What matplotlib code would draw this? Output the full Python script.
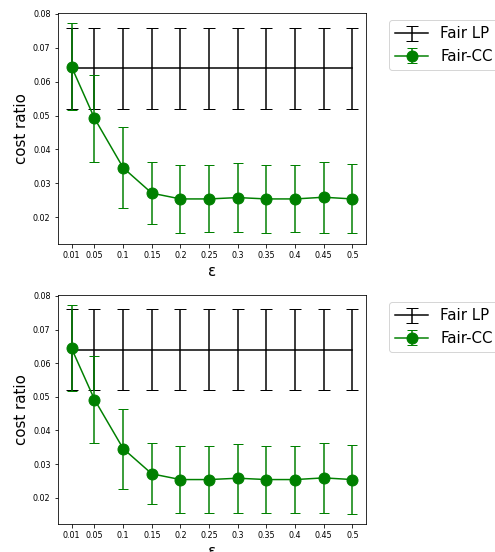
import matplotlib
matplotlib.use('Agg')
import matplotlib.pyplot as plt

# epsilon values
eps = [0.01, 0.05, 0.1, 0.15, 0.2, 0.25, 0.3, 0.35, 0.4, 0.45, 0.5]

# Fair LP (constant)
lp_mean = [0.064] * len(eps)
lp_err = [0.012] * len(eps)

# Fair-CC
cc_mean = [0.0644, 0.0492, 0.0346, 0.0271, 0.0254, 0.0254, 0.0258, 0.0254, 0.0254, 0.0259, 0.0254]
cc_err = [0.0128, 0.0129, 0.0119, 0.0091, 0.0100, 0.0099, 0.0102, 0.0100, 0.0099, 0.0105, 0.0102]

fig = plt.figure(figsize=(495 / 72, 552 / 72), dpi=72)

positions = [[0.1162, 0.558, 0.6242, 0.4185],
             [0.1162, 0.0502, 0.6242, 0.4155]]

for pos in positions:
    ax = fig.add_axes(pos)
    ax.errorbar(eps, lp_mean, yerr=lp_err, color='black', capsize=6, label='Fair LP')
    ax.errorbar(eps, cc_mean, yerr=cc_err, color='green', marker='o', markersize=11,
                capsize=5, label='Fair-CC')
    ax.set_xticks(eps)
    ax.set_xticklabels([str(e) for e in eps], fontsize=8)
    ax.tick_params(axis='y', labelsize=8)
    ax.set_xlabel('ε', fontsize=15)
    ax.set_ylabel('cost ratio', fontsize=15)
    ax.legend(loc='upper left', bbox_to_anchor=(1.05, 1), fontsize=15, handlelength=2.2)

fig.savefig('out.png', dpi=72)
